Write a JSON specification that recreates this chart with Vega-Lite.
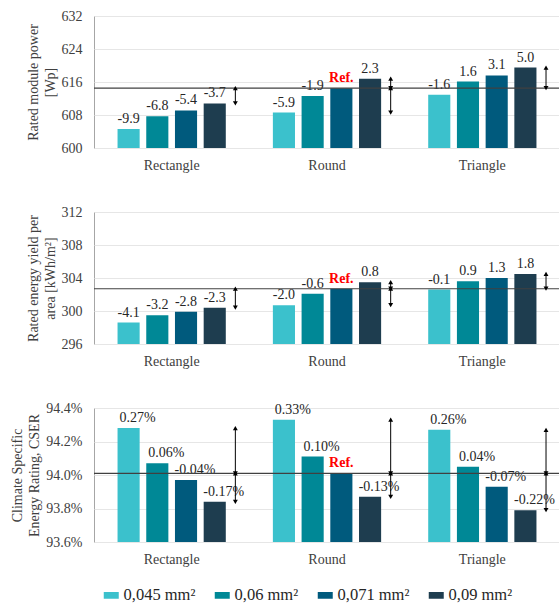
{
  "$schema": "https://vega.github.io/schema/vega-lite/v6.json",
  "padding": {"left": 10, "top": 8, "right": 0, "bottom": 0},
  "background": "white",
  "datasets": {
    "bars": [
      {"panel": 1, "group": "Rectangle", "size": "0,045 mm²", "value": 604.6, "label": "-9.9", "ref": false},
      {"panel": 1, "group": "Rectangle", "size": "0,06 mm²", "value": 607.7, "label": "-6.8", "ref": false},
      {"panel": 1, "group": "Rectangle", "size": "0,071 mm²", "value": 609.1, "label": "-5.4", "ref": false},
      {"panel": 1, "group": "Rectangle", "size": "0,09 mm²", "value": 610.8, "label": "-3.7", "ref": false},
      {"panel": 1, "group": "Round", "size": "0,045 mm²", "value": 608.6, "label": "-5.9", "ref": false},
      {"panel": 1, "group": "Round", "size": "0,06 mm²", "value": 612.6, "label": "-1.9", "ref": false},
      {"panel": 1, "group": "Round", "size": "0,071 mm²", "value": 614.5, "label": "Ref.", "ref": true},
      {"panel": 1, "group": "Round", "size": "0,09 mm²", "value": 616.8, "label": "2.3", "ref": false},
      {"panel": 1, "group": "Triangle", "size": "0,045 mm²", "value": 612.9, "label": "-1.6", "ref": false},
      {"panel": 1, "group": "Triangle", "size": "0,06 mm²", "value": 616.1, "label": "1.6", "ref": false},
      {"panel": 1, "group": "Triangle", "size": "0,071 mm²", "value": 617.6, "label": "3.1", "ref": false},
      {"panel": 1, "group": "Triangle", "size": "0,09 mm²", "value": 619.5, "label": "5.0", "ref": false},
      {"panel": 2, "group": "Rectangle", "size": "0,045 mm²", "value": 298.6, "label": "-4.1", "ref": false},
      {"panel": 2, "group": "Rectangle", "size": "0,06 mm²", "value": 299.5, "label": "-3.2", "ref": false},
      {"panel": 2, "group": "Rectangle", "size": "0,071 mm²", "value": 299.9, "label": "-2.8", "ref": false},
      {"panel": 2, "group": "Rectangle", "size": "0,09 mm²", "value": 300.4, "label": "-2.3", "ref": false},
      {"panel": 2, "group": "Round", "size": "0,045 mm²", "value": 300.7, "label": "-2.0", "ref": false},
      {"panel": 2, "group": "Round", "size": "0,06 mm²", "value": 302.1, "label": "-0.6", "ref": false},
      {"panel": 2, "group": "Round", "size": "0,071 mm²", "value": 302.7, "label": "Ref.", "ref": true},
      {"panel": 2, "group": "Round", "size": "0,09 mm²", "value": 303.5, "label": "0.8", "ref": false},
      {"panel": 2, "group": "Triangle", "size": "0,045 mm²", "value": 302.6, "label": "-0.1", "ref": false},
      {"panel": 2, "group": "Triangle", "size": "0,06 mm²", "value": 303.6, "label": "0.9", "ref": false},
      {"panel": 2, "group": "Triangle", "size": "0,071 mm²", "value": 304.0, "label": "1.3", "ref": false},
      {"panel": 2, "group": "Triangle", "size": "0,09 mm²", "value": 304.5, "label": "1.8", "ref": false},
      {"panel": 3, "group": "Rectangle", "size": "0,045 mm²", "value": 0.9428, "label": "0.27%", "ref": false},
      {"panel": 3, "group": "Rectangle", "size": "0,06 mm²", "value": 0.9407, "label": "0.06%", "ref": false},
      {"panel": 3, "group": "Rectangle", "size": "0,071 mm²", "value": 0.9397, "label": "-0.04%", "ref": false},
      {"panel": 3, "group": "Rectangle", "size": "0,09 mm²", "value": 0.9384, "label": "-0.17%", "ref": false},
      {"panel": 3, "group": "Round", "size": "0,045 mm²", "value": 0.9433, "label": "0.33%", "ref": false},
      {"panel": 3, "group": "Round", "size": "0,06 mm²", "value": 0.9411, "label": "0.10%", "ref": false},
      {"panel": 3, "group": "Round", "size": "0,071 mm²", "value": 0.9401, "label": "Ref.", "ref": true},
      {"panel": 3, "group": "Round", "size": "0,09 mm²", "value": 0.9387, "label": "-0.13%", "ref": false},
      {"panel": 3, "group": "Triangle", "size": "0,045 mm²", "value": 0.9427, "label": "0.26%", "ref": false},
      {"panel": 3, "group": "Triangle", "size": "0,06 mm²", "value": 0.9405, "label": "0.04%", "ref": false},
      {"panel": 3, "group": "Triangle", "size": "0,071 mm²", "value": 0.9393, "label": "-0.07%", "ref": false},
      {"panel": 3, "group": "Triangle", "size": "0,09 mm²", "value": 0.9379, "label": "-0.22%", "ref": false}
    ],
    "arrows": [
      {"panel": 1, "group": "Rectangle", "top": 614.5, "bottom": 610.8},
      {"panel": 1, "group": "Round", "top": 616.8, "bottom": 614.5},
      {"panel": 1, "group": "Round", "top": 614.5, "bottom": 608.6},
      {"panel": 1, "group": "Triangle", "top": 619.5, "bottom": 614.5},
      {"panel": 2, "group": "Rectangle", "top": 302.7, "bottom": 300.4},
      {"panel": 2, "group": "Round", "top": 303.5, "bottom": 302.7},
      {"panel": 2, "group": "Round", "top": 302.7, "bottom": 300.7},
      {"panel": 2, "group": "Triangle", "top": 304.5, "bottom": 302.7},
      {"panel": 3, "group": "Rectangle", "top": 0.9428, "bottom": 0.9401},
      {"panel": 3, "group": "Rectangle", "top": 0.9401, "bottom": 0.9384},
      {"panel": 3, "group": "Round", "top": 0.9433, "bottom": 0.9401},
      {"panel": 3, "group": "Round", "top": 0.9401, "bottom": 0.9387},
      {"panel": 3, "group": "Triangle", "top": 0.9427, "bottom": 0.9401},
      {"panel": 3, "group": "Triangle", "top": 0.9401, "bottom": 0.9379}
    ],
    "refs": [
      {"panel": 1, "ref": 614.5},
      {"panel": 2, "ref": 302.7},
      {"panel": 3, "ref": 0.9401}
    ]
  },
  "bounds": "flush",
  "spacing": 64,
  "resolve": {"scale": {"y": "independent", "x": "independent", "color": "shared"}},
  "vconcat": [
    {
      "width": 466, "height": 132,
      "layer": [
        {"data": {"name": "bars"}, "transform": [{"filter": "datum.panel == 1"}],
         "mark": {"type": "bar", "clip": true},
         "encoding": {
           "x": {"field": "group", "type": "nominal", "sort": ["Rectangle", "Round", "Triangle"], "scale": {"paddingInner": 0, "paddingOuter": 0}, "axis": {"title": null, "labelAngle": 0}},
           "xOffset": {"field": "size", "type": "nominal", "scale": {"paddingInner": 0.23, "paddingOuter": 0.82}},
           "y": {"field": "value", "type": "quantitative", "scale": {"domain": [600, 632], "zero": false, "nice": false}, "axis": {"values": [600, 608, 616, 624, 632], "tickCount": 10, "labelOverlap": false, "title": ["Rated module power", "[Wp]"]}},
           "color": {"field": "size", "type": "nominal"}
         }},
        {"data": {"name": "bars"}, "transform": [{"filter": "datum.panel == 1 && !datum.ref"}],
         "mark": {"type": "text", "baseline": "bottom", "dy": -3, "fontSize": 14, "color": "#262626"},
         "encoding": {
           "x": {"field": "group", "type": "nominal", "sort": ["Rectangle", "Round", "Triangle"]},
           "xOffset": {"field": "size", "type": "nominal"},
           "y": {"field": "value", "type": "quantitative"},
           "text": {"field": "label"}
         }},
        {"data": {"name": "bars"}, "transform": [{"filter": "datum.panel == 1 && datum.ref"}],
         "mark": {"type": "text", "baseline": "bottom", "dy": -3, "fontSize": 14, "fontWeight": "bold", "color": "#ff0000"},
         "encoding": {
           "x": {"field": "group", "type": "nominal", "sort": ["Rectangle", "Round", "Triangle"]},
           "xOffset": {"field": "size", "type": "nominal"},
           "y": {"field": "value", "type": "quantitative"},
           "text": {"field": "label"}
         }},
        {"data": {"name": "refs"}, "transform": [{"filter": "datum.panel == 1"}],
         "mark": {"type": "rule", "color": "#404040", "strokeWidth": 1.2},
         "encoding": {"y": {"field": "ref", "type": "quantitative"}}},
        {"data": {"name": "arrows"}, "transform": [{"filter": "datum.panel == 1"}],
         "mark": {"type": "rule", "color": "#000000", "strokeWidth": 1},
         "encoding": {
           "x": {"field": "group", "type": "nominal", "sort": ["Rectangle", "Round", "Triangle"], "bandPosition": 0.91},
           "y": {"field": "top", "type": "quantitative"},
           "y2": {"field": "bottom"}
         }},
        {"data": {"name": "arrows"}, "transform": [{"filter": "datum.panel == 1"}],
         "mark": {"type": "point", "shape": "triangle-up", "filled": true, "color": "#000000", "size": 24, "opacity": 1},
         "encoding": {
           "x": {"field": "group", "type": "nominal", "sort": ["Rectangle", "Round", "Triangle"], "bandPosition": 0.91},
           "y": {"field": "top", "type": "quantitative"}
         }},
        {"data": {"name": "arrows"}, "transform": [{"filter": "datum.panel == 1"}],
         "mark": {"type": "point", "shape": "triangle-down", "filled": true, "color": "#000000", "size": 24, "opacity": 1},
         "encoding": {
           "x": {"field": "group", "type": "nominal", "sort": ["Rectangle", "Round", "Triangle"], "bandPosition": 0.91},
           "y": {"field": "bottom", "type": "quantitative"}
         }}
      ]
    },
    {
      "width": 466, "height": 132,
      "layer": [
        {"data": {"name": "bars"}, "transform": [{"filter": "datum.panel == 2"}],
         "mark": {"type": "bar", "clip": true},
         "encoding": {
           "x": {"field": "group", "type": "nominal", "sort": ["Rectangle", "Round", "Triangle"], "scale": {"paddingInner": 0, "paddingOuter": 0}, "axis": {"title": null, "labelAngle": 0}},
           "xOffset": {"field": "size", "type": "nominal", "scale": {"paddingInner": 0.23, "paddingOuter": 0.82}},
           "y": {"field": "value", "type": "quantitative", "scale": {"domain": [296, 312], "zero": false, "nice": false}, "axis": {"values": [296, 300, 304, 308, 312], "tickCount": 10, "labelOverlap": false, "title": ["Rated energy yield per", "area [kWh/m²]"]}},
           "color": {"field": "size", "type": "nominal"}
         }},
        {"data": {"name": "bars"}, "transform": [{"filter": "datum.panel == 2 && !datum.ref"}],
         "mark": {"type": "text", "baseline": "bottom", "dy": -3, "fontSize": 14, "color": "#262626"},
         "encoding": {
           "x": {"field": "group", "type": "nominal", "sort": ["Rectangle", "Round", "Triangle"]},
           "xOffset": {"field": "size", "type": "nominal"},
           "y": {"field": "value", "type": "quantitative"},
           "text": {"field": "label"}
         }},
        {"data": {"name": "bars"}, "transform": [{"filter": "datum.panel == 2 && datum.ref"}],
         "mark": {"type": "text", "baseline": "bottom", "dy": -3, "fontSize": 14, "fontWeight": "bold", "color": "#ff0000"},
         "encoding": {
           "x": {"field": "group", "type": "nominal", "sort": ["Rectangle", "Round", "Triangle"]},
           "xOffset": {"field": "size", "type": "nominal"},
           "y": {"field": "value", "type": "quantitative"},
           "text": {"field": "label"}
         }},
        {"data": {"name": "refs"}, "transform": [{"filter": "datum.panel == 2"}],
         "mark": {"type": "rule", "color": "#404040", "strokeWidth": 1.2},
         "encoding": {"y": {"field": "ref", "type": "quantitative"}}},
        {"data": {"name": "arrows"}, "transform": [{"filter": "datum.panel == 2"}],
         "mark": {"type": "rule", "color": "#000000", "strokeWidth": 1},
         "encoding": {
           "x": {"field": "group", "type": "nominal", "sort": ["Rectangle", "Round", "Triangle"], "bandPosition": 0.91},
           "y": {"field": "top", "type": "quantitative"},
           "y2": {"field": "bottom"}
         }},
        {"data": {"name": "arrows"}, "transform": [{"filter": "datum.panel == 2"}],
         "mark": {"type": "point", "shape": "triangle-up", "filled": true, "color": "#000000", "size": 24, "opacity": 1},
         "encoding": {
           "x": {"field": "group", "type": "nominal", "sort": ["Rectangle", "Round", "Triangle"], "bandPosition": 0.91},
           "y": {"field": "top", "type": "quantitative"}
         }},
        {"data": {"name": "arrows"}, "transform": [{"filter": "datum.panel == 2"}],
         "mark": {"type": "point", "shape": "triangle-down", "filled": true, "color": "#000000", "size": 24, "opacity": 1},
         "encoding": {
           "x": {"field": "group", "type": "nominal", "sort": ["Rectangle", "Round", "Triangle"], "bandPosition": 0.91},
           "y": {"field": "bottom", "type": "quantitative"}
         }}
      ]
    },
    {
      "width": 466, "height": 134,
      "layer": [
        {"data": {"name": "bars"}, "transform": [{"filter": "datum.panel == 3"}],
         "mark": {"type": "bar", "clip": true},
         "encoding": {
           "x": {"field": "group", "type": "nominal", "sort": ["Rectangle", "Round", "Triangle"], "scale": {"paddingInner": 0, "paddingOuter": 0}, "axis": {"title": null, "labelAngle": 0}},
           "xOffset": {"field": "size", "type": "nominal", "scale": {"paddingInner": 0.23, "paddingOuter": 0.82}},
           "y": {"field": "value", "type": "quantitative", "scale": {"domain": [0.936, 0.944], "zero": false, "nice": false}, "axis": {"values": [0.936, 0.938, 0.94, 0.942, 0.944], "tickCount": 10, "format": ".1%", "labelOverlap": false, "title": ["Climate Specific", "Energy Rating, CSER"]}},
           "color": {"field": "size", "type": "nominal"}
         }},
        {"data": {"name": "bars"}, "transform": [{"filter": "datum.panel == 3 && !datum.ref"}],
         "mark": {"type": "text", "baseline": "bottom", "dy": -3, "dx": 9, "fontSize": 14, "color": "#262626"},
         "encoding": {
           "x": {"field": "group", "type": "nominal", "sort": ["Rectangle", "Round", "Triangle"]},
           "xOffset": {"field": "size", "type": "nominal"},
           "y": {"field": "value", "type": "quantitative"},
           "text": {"field": "label"}
         }},
        {"data": {"name": "bars"}, "transform": [{"filter": "datum.panel == 3 && datum.ref"}],
         "mark": {"type": "text", "baseline": "bottom", "dy": -3, "fontSize": 14, "fontWeight": "bold", "color": "#ff0000"},
         "encoding": {
           "x": {"field": "group", "type": "nominal", "sort": ["Rectangle", "Round", "Triangle"]},
           "xOffset": {"field": "size", "type": "nominal"},
           "y": {"field": "value", "type": "quantitative"},
           "text": {"field": "label"}
         }},
        {"data": {"name": "refs"}, "transform": [{"filter": "datum.panel == 3"}],
         "mark": {"type": "rule", "color": "#404040", "strokeWidth": 1.2},
         "encoding": {"y": {"field": "ref", "type": "quantitative"}}},
        {"data": {"name": "arrows"}, "transform": [{"filter": "datum.panel == 3"}],
         "mark": {"type": "rule", "color": "#000000", "strokeWidth": 1},
         "encoding": {
           "x": {"field": "group", "type": "nominal", "sort": ["Rectangle", "Round", "Triangle"], "bandPosition": 0.91},
           "y": {"field": "top", "type": "quantitative"},
           "y2": {"field": "bottom"}
         }},
        {"data": {"name": "arrows"}, "transform": [{"filter": "datum.panel == 3"}],
         "mark": {"type": "point", "shape": "triangle-up", "filled": true, "color": "#000000", "size": 24, "opacity": 1},
         "encoding": {
           "x": {"field": "group", "type": "nominal", "sort": ["Rectangle", "Round", "Triangle"], "bandPosition": 0.91},
           "y": {"field": "top", "type": "quantitative"}
         }},
        {"data": {"name": "arrows"}, "transform": [{"filter": "datum.panel == 3"}],
         "mark": {"type": "point", "shape": "triangle-down", "filled": true, "color": "#000000", "size": 24, "opacity": 1},
         "encoding": {
           "x": {"field": "group", "type": "nominal", "sort": ["Rectangle", "Round", "Triangle"], "bandPosition": 0.91},
           "y": {"field": "bottom", "type": "quantitative"}
         }}
      ]
    }
  ],
  "config": {
    "font": "Liberation Serif",
    "text": {"font": "Liberation Serif"},
    "view": {"stroke": "#a6a6a6", "strokeWidth": 1},
    "axis": {
      "labelFont": "Liberation Serif", "titleFont": "Liberation Serif",
      "labelFontSize": 14, "titleFontSize": 14, "titleFontWeight": "normal",
      "labelColor": "#404040", "titleColor": "#404040",
      "ticks": false, "domain": false, "labelOverlap": false,
      "gridColor": "#e6e6e6", "gridWidth": 1
    },
    "axisY": {"labelPadding": 12, "titlePadding": 4, "titleLineHeight": 17, "grid": true},
    "axisX": {"labelPadding": 10, "grid": false},
    "range": {"category": ["#3bc1cc", "#008896", "#005a7d", "#1e3d4f"]},
    "legend": {
      "orient": "bottom", "direction": "horizontal", "title": null,
      "labelFont": "Liberation Serif", "labelFontSize": 16.5, "labelColor": "#262626",
      "symbolType": "M-1,-0.45L1,-0.45L1,0.45L-1,0.45Z", "symbolSize": 225, "symbolStrokeWidth": 0,
      "columnPadding": 18, "labelOffset": 4, "padding": 9, "offset": 11
    }
  }
}
